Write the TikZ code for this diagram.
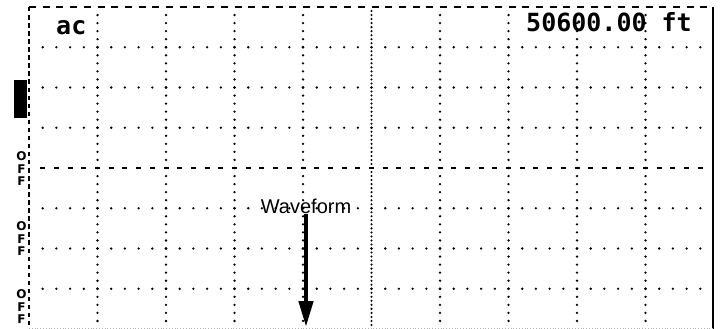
\documentclass[tikz,border=0pt]{standalone}
\usepackage{fontspec}
\setmainfont{Liberation Sans}
\newfontfamily\readoutfont{DejaVu Sans Mono Bold}
\newfontfamily\chanfont{DejaVu Sans Bold}
\usetikzlibrary{arrows.meta}

\tikzset{
  griddot/.style={fill=black},
  borderdash/.style={line width=2pt},
  readout/.style={font=\readoutfont\fontsize{25}{25}\selectfont,inner sep=0pt},
  offlabel/.style={font=\chanfont\fontsize{12}{12.5}\selectfont,align=center,inner sep=0pt},
  wavearrow/.style={line width=4.5pt,-{Triangle[length=26pt,width=14pt]}}
}

\begin{document}
\begin{tikzpicture}[x=1pt,y=-1pt]
  \useasboundingbox (0,0) rectangle (720,329);

  % Minor dots on the horizontal grid lines
  \foreach \r in {1,2,3,5,6,7}
    \foreach \k in {1,...,49}
      \fill[griddot] (29+\k*13.7,7+\r*40.25) circle (1.3);

  % Minor dots on the vertical grid lines
  \foreach \c in {1,2,3,4,6,7,8,9}
    \foreach \k in {1,...,39}
      \fill[griddot] (29+\c*68.5,7+\k*8.05) circle (1.3);

  % Centre horizontal line
  \foreach \k in {1,...,49}
    \draw[borderdash] (26.5+\k*13.7,168) -- ++(5,0);

  % Centre vertical line
  \foreach \k in {1,...,79}
    \fill[griddot] (371.5,7+\k*4.025) circle (1.15);

  % Top border
  \foreach \k in {0,...,49}
    \draw[borderdash] (29+\k*13.7,7) -- ++(7,0);

  % Left border
  \foreach \k in {0,...,39}
    \draw[borderdash] (29,7+\k*8.05) -- ++(0,4.5);

  % Right border
  \draw[line width=1.6pt] (713,7) -- (713,329);

  % Bottom border
  \draw[gray!60,dotted,line width=0.8pt] (29,328) -- (713,328);

  % Readouts
  \node[readout,anchor=base west] (mode) at (56,35) {ac};
  \node[readout,anchor=base east] (depth) at (692,32) {50600.00 ft};

  % Channel markers
  \fill (14,80) rectangle (27,118);
  \foreach \c [count=\i] in {169,239,307}
    \node[offlabel] (off\i) at (21.5,\c) {O\\F\\F};

  % Waveform label and arrow
  \node[inner sep=1pt,anchor=base,font=\fontsize{20}{20}\selectfont] (wave) at (306,213) {Waveform};
  \coordinate (tip) at (306,327);
  \draw[wavearrow] (wave.south) -- (tip);
\end{tikzpicture}
\end{document}
